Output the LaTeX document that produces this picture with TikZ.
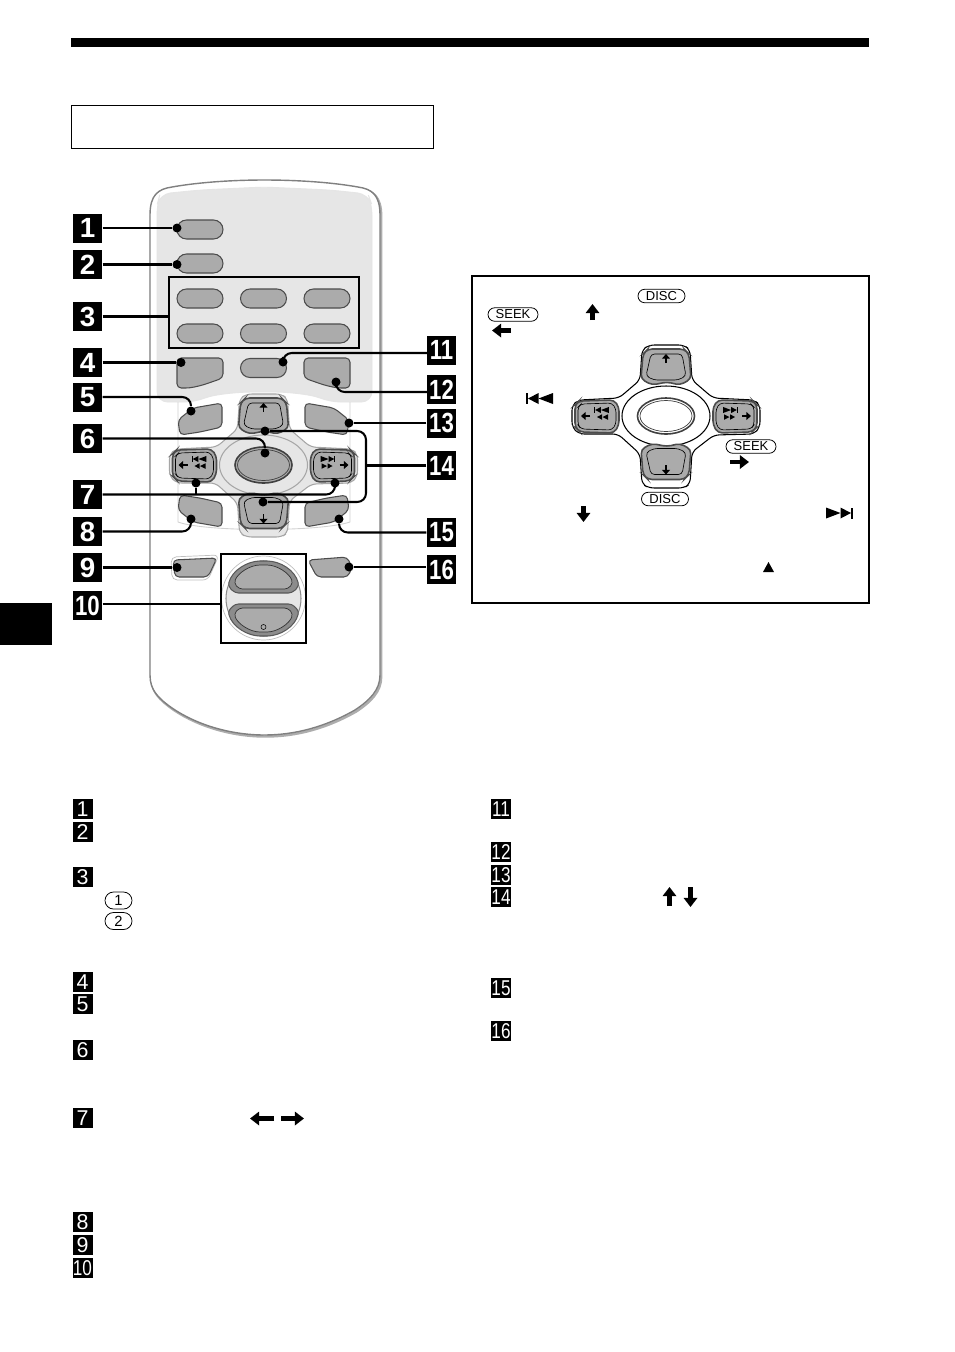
\documentclass[tikz,border=0pt]{standalone}
\usepackage{fontspec}
\setmainfont{Liberation Sans}
\usepackage{graphicx}
\usetikzlibrary{arrows.meta,shapes.misc}
\definecolor{keygray}{HTML}{ABABAB}
\definecolor{panelgray}{HTML}{E6E6E6}
\tikzset{
	bignum/.style={fill=black,text=white,minimum size=2.9mm,inner sep=0pt,font=\fontsize{7.9}{9}\selectfont\bfseries},
	smallnum/.style={fill=black,text=white,minimum size=2mm,inner sep=0pt,font=\fontsize{6.1}{7}\selectfont},
	leader/.style={line width=0.58pt,rounded corners=2.5pt},
	dot/.style={circle,fill=black,inner sep=0pt,minimum size=0.9mm},
	pill/.style={rounded rectangle,draw=black!70,line width=0.3pt,fill=keygray,minimum width=4.6mm,minimum height=1.9mm,inner sep=0pt},
	markpill/.style={rounded rectangle,draw=black,line width=0.22pt,minimum height=1.35mm,inner sep=0pt,font=\fontsize{3.7}{4}\selectfont},
	key/.style={draw=black!70,line width=0.3pt,fill=keygray,rounded corners=1.2pt},
	blockarrow/.style={line width=1.4pt,-{Triangle[length=2.6pt,width=3.8pt]}},
	tinyarrow/.style={line width=0.55pt,-{Triangle[length=1.3pt,width=2.2pt]}}
}
\newcommand{\tagtext}[1]{\ifnum#1>9 \scalebox{.8}[1]{#1}\else #1\fi}
\newcommand{\remotebody}{(150,215) .. controls (150,195) and (158,189) .. (172,187) .. controls (200,182) and (235,180) .. (264,180) .. controls (295,180) and (330,182) .. (358,187) .. controls (372,189) and (380,195) .. (380,215) -- (380,675) .. controls (380,690) and (370,700) .. (355,710) .. controls (325,727) and (295,735) .. (264,735) .. controls (235,735) and (200,727) .. (172,708) .. controls (158,698) and (150,690) .. (150,675) -- cycle}
% skip mark, drawn pointing left around its centre
\newcommand{\skipmark}[1]{
	\begin{scope}[#1]
		\fill (-13.5,-5.5) rectangle (-11.5,5.5);
		\fill (-11.5,0) -- (-1,-5.5) -- (-1,5.5) -- cycle;
		\fill (-1,0) -- (13.5,-5.5) -- (13.5,5.5) -- cycle;
	\end{scope}
}
% double triangle without the bar
\newcommand{\scanmark}[1]{
	\begin{scope}[#1]
		\fill (-11,0) -- (-1,-5.5) -- (-1,5.5) -- cycle;
		\fill (0,0) -- (11,-5.5) -- (11,5.5) -- cycle;
	\end{scope}
}
% arm of the cross pad, the upper one
\newcommand{\armkey}[1]{
	\begin{scope}[#1]
		\filldraw[key,line width=0.45pt] (-18,-67) -- (18,-67) -- (23,-62) -- (25,-37) -- (14,-31) -- (1,-34) -- (-14,-31) -- (-25,-37) -- (-23,-62) -- cycle;
		\draw[line width=0.18pt,rounded corners=1pt] (-15,-62) -- (16,-62) -- (20,-40) -- (12,-36) -- (-12,-36) -- (-20,-40) -- cycle;
		\draw[tinyarrow] (0,-53) -- (0,-62);
	\end{scope}
}
% arm of the cross pad, the left one
\newcommand{\sidekey}[1]{
	\begin{scope}[#1]
		\filldraw[key,line width=0.45pt] (-91,-11) -- (-87,-15) -- (-52,-16) -- (-47,-9) -- (-47,9) -- (-52,17) -- (-86,16) -- (-91,11) -- cycle;
		\draw[line width=0.18pt,rounded corners=1pt] (-88,-9) -- (-85,-12) -- (-54,-13) -- (-50,-7) -- (-50,8) -- (-54,14) -- (-85,13) -- (-88,9) -- cycle;
		\draw[tinyarrow] (-76,0) -- (-85,0);
		\skipmark{shift={(-64.5,-6)},scale=0.55}
		\scanmark{shift={(-63.5,1)},scale=0.5}
	\end{scope}
}
% the whole cross pad: centre, rim colour, hub fill, knob fill
\newcommand{\crosspad}[4]{
	\begin{scope}[shift={#1}]
		\filldraw[draw=#2,fill=#3,line width=0.3pt,rounded corners=1.5pt] (-24,-66) -- (-17,-71) -- (18,-71) -- (24,-66) -- (26,-36) -- (47,-18) -- (88,-16) -- (94,-11) -- (94,11) -- (88,18) -- (48,19) -- (26,36) -- (24,68) -- (18,72) -- (-17,72) -- (-24,68) -- (-26,38) -- (-48,18) -- (-87,18) -- (-94,11) -- (-94,-11) -- (-87,-16) -- (-47,-18) -- (-26,-36) -- cycle;
		\draw[draw=#2,line width=0.3pt] (0,0) ellipse [x radius=44,y radius=30];
		\armkey{}
		\armkey{yscale=-1,yshift=-1}
		\sidekey{}
		\sidekey{xscale=-1}
		\filldraw[draw=black!75,fill=#4,line width=0.45pt] (0,0) ellipse [x radius=28.5,y radius=18];
		\draw[draw=black!75,line width=0.2pt] (0,0) ellipse [x radius=26,y radius=15.5];
	\end{scope}
}
\begin{document}
\begin{tikzpicture}[x=0.1mm,y=-0.1mm]
	\useasboundingbox (0,0) rectangle (954,1352);

	% Page furniture
	\fill (71,38) rectangle (869,47);
	\fill (0,603) rectangle (52,645);
	\draw[line width=0.2pt] (71,105) rectangle (433,148);

	% Body of the remote
	\draw[black!32,line width=0.7pt,shift={(1.2,1.5)}] \remotebody;
	\filldraw[fill=white,draw=black!50,line width=0.4pt] \remotebody;
	\filldraw[fill=panelgray,draw=black!10,line width=0.25pt,rounded corners=3pt] (157,205) -- (160,194) -- (200,190) -- (264,187) -- (330,190) -- (368,194) -- (372,205) -- (372,402) -- (330,402) .. controls (310,394) and (285,392) .. (264,392) .. controls (240,392) and (215,394) .. (195,402) -- (157,402) -- cycle;
	\draw[black!18,line width=0.25pt] (178,402) -- (178,522) .. controls (205,532) and (320,532) .. (350,522) -- (350,402);

	% Upper keys
	\node[pill] (key1) at (200,229.5) {};
	\node[pill] (key2) at (200,263.5) {};
	\foreach \kx in {200,263.5,327} {
			\node[pill] (keya\kx) at (\kx,298.5) {};
			\node[pill] (keyb\kx) at (\kx,333.5) {};
		}
	\node[pill] (key11) at (263.5,368) {};
	\filldraw[key] (177,358) -- (223,358) -- (223,378) -- (203,385) -- (190,388) -- (177,388) -- cycle;
	\filldraw[key] (350,358) -- (304,358) -- (304,378) -- (324,385) -- (337,388) -- (350,388) -- cycle;
	\draw[line width=0.45pt] (169,277) rectangle (359,348);
	\coordinate (box3w) at (169,316.5);

	% Four slanted keys round the pad
	\foreach \mx/\my/\mo in {1/1/0,-1/1/527,1/-1/0,-1/-1/527} {
			\begin{scope}[shift={(\mo,0)},xscale=\mx]
				\filldraw[key] (178,{465+\my*(-45)}) -- (193,{465+\my*(-57)}) -- (222,{465+\my*(-62)}) -- (222,{465+\my*(-38)}) -- (200,{465+\my*(-33)}) -- (180,{465+\my*(-30)}) -- cycle;
			\end{scope}
		}

	% Cross pad on the remote
	\crosspad{(263.5,465)}{black!35}{panelgray}{keygray}

	% Lower keys and the dial
	\filldraw[fill=white,draw=black!25,line width=0.2pt,rounded corners=1.5pt] (171,557) -- (219,555) -- (208,580) -- (172,580) -- cycle;
	\filldraw[key] (173,560) -- (217,558) -- (208,577) -- (175,577) -- cycle;
	\filldraw[key] (308,560) -- (347,557) -- (352,567) -- (348,577) -- (317,577) -- cycle;
	\draw[black!25,line width=0.2pt] (263.5,598) circle [radius=42];
	\filldraw[fill=panelgray,draw=black!45,line width=0.3pt] (263.5,598.5) circle [radius=37.5];
	\filldraw[fill=black!45,draw=black!65,line width=0.3pt,rounded corners=1pt] (228,586) .. controls (232,570) and (248,561) .. (263.5,561) .. controls (280,561) and (295,570) .. (299,586) -- (292,593) -- (235,593) -- cycle;
	\filldraw[fill=keygray,draw=black!80,line width=0.2pt,rounded corners=1pt] (234,583) .. controls (238,573) and (250,565) .. (263.5,565) .. controls (277,565) and (289,573) .. (293,583) -- (288,589) -- (239,589) -- cycle;
	\filldraw[fill=black!45,draw=black!65,line width=0.3pt,rounded corners=1pt] (228,611) .. controls (232,627) and (248,636) .. (263.5,636) .. controls (280,636) and (295,627) .. (299,611) -- (292,604) -- (235,604) -- cycle;
	\filldraw[fill=keygray,draw=black!80,line width=0.2pt,rounded corners=1pt] (234,614) .. controls (238,624) and (250,632) .. (263.5,632) .. controls (277,632) and (289,624) .. (293,614) -- (288,608) -- (239,608) -- cycle;
	\draw[line width=0.15pt] (263.5,627) circle [radius=2.5];
	\draw[line width=0.45pt] (221,554) rectangle (306,643);
	\coordinate (box10w) at (221,604);

	% Big callout numbers
	\foreach \n/\x/\y in {1/87.5/228,2/87.5/264.5,3/87.5/316.5,4/87.5/362.5,5/87.5/397,6/87.5/438.5,7/87.5/494.5,8/87.5/531.5,9/87.5/567.5,10/87.5/605.5,11/441.5/350,12/441.5/389.5,13/441.5/423,14/441.5/465.5,15/441.5/532.5,16/441.5/569.5} {
			\node[bignum] (n\n) at (\x,\y) {\tagtext{\n}};
		}

	% Ends of the callout lines
	\foreach \n/\x/\y in {1/177/228,2/177/264.5,4/181/362.5,5/191/411,6/265/453,7a/196/483,7b/335/483,8/191/519,9/177/567.5,11/283/362,12/336/382,13/349/423,14a/265/431,14b/263/502,15/339/519,16/349/567} {
			\node[dot] (d\n) at (\x,\y) {};
		}
	\coordinate (c11) at (427,353);
	\coordinate (c12) at (427,392);
	\coordinate (c14) at (366,465.5);

	% Callout lines
	\draw[leader] (n1.east) -- (d1);
	\draw[leader] (n2.east) -- (d2);
	\draw[leader] (n3.east) -- (box3w);
	\draw[leader] (n4.east) -- (d4);
	\draw[leader] (n5.east) -| (d5);
	\draw[leader] (n6.east) -| (d6);
	\draw[leader] (n7.east) -| (d7b);
	\draw[leader] (d7a) -- (d7a |- n7.east);
	\draw[leader] (n8.east) -| (d8);
	\draw[leader] (n9.east) -- (d9);
	\draw[leader] (n10.east |- box10w) -- (box10w);
	\draw[leader] (c11) -| (d11);
	\draw[leader] (c12) -| (d12);
	\draw[leader] (n13.west) -- (d13);
	\draw[leader] (d14a) -| (c14) |- (d14b);
	\draw[leader] (n14.west) -- (c14);
	\draw[leader] (n15.west) -| (d15);
	\draw[leader] (n16.west |- d16) -- (d16);

	% Cross pad in the frame
	\draw[line width=0.7pt] (472,276) rectangle (869,603);
	\crosspad{(666,416)}{black}{white}{white}
	\node[markpill,minimum width=4.7mm] (disca) at (661.5,296) {DISC};
	\node[markpill,minimum width=5mm] (seeka) at (513,314.5) {SEEK};
	\node[markpill,minimum width=5mm] (seekb) at (751,446.5) {SEEK};
	\node[markpill,minimum width=4.7mm] (discb) at (665,499) {DISC};
	\draw[blockarrow] (511,330.5) -- (492,330.5);
	\draw[blockarrow] (592.5,320) -- (592.5,304);
	\draw[blockarrow] (730,462) -- (749,462);
	\draw[blockarrow] (583.5,506) -- (583.5,522);
	\skipmark{shift={(539.5,398.5)}}
	\skipmark{shift={(839.5,513)},xscale=-1}
	\fill (768.5,562) -- (774,572) -- (763,572) -- cycle;

	% Numbers of the list
	\foreach \n/\x/\y in {1/82.5/809,2/82.5/832,3/82.5/877,4/82.5/982,5/82.5/1004,6/82.5/1050,7/82.5/1118,8/82.5/1222,9/82.5/1245,10/82.5/1268,11/501/809,12/501/852,13/501/875,14/501/897,15/501/988,16/501/1031} {
			\node[smallnum] (t\n) at (\x,\y) {\tagtext{\n}};
		}
	\node[markpill,minimum width=2.7mm,minimum height=1.7mm,font=\fontsize{4.2}{5}\selectfont] (presetone) at (118.5,900.5) {1};
	\node[markpill,minimum width=2.7mm,minimum height=1.7mm,font=\fontsize{4.2}{5}\selectfont] (presettwo) at (118.5,921) {2};
	\draw[blockarrow] (669.5,906) -- (669.5,887);
	\draw[blockarrow] (690.5,887) -- (690.5,907);
	\draw[blockarrow] (274,1118.5) -- (250,1118.5);
	\draw[blockarrow] (281,1118.5) -- (304,1118.5);
\end{tikzpicture}
\end{document}
